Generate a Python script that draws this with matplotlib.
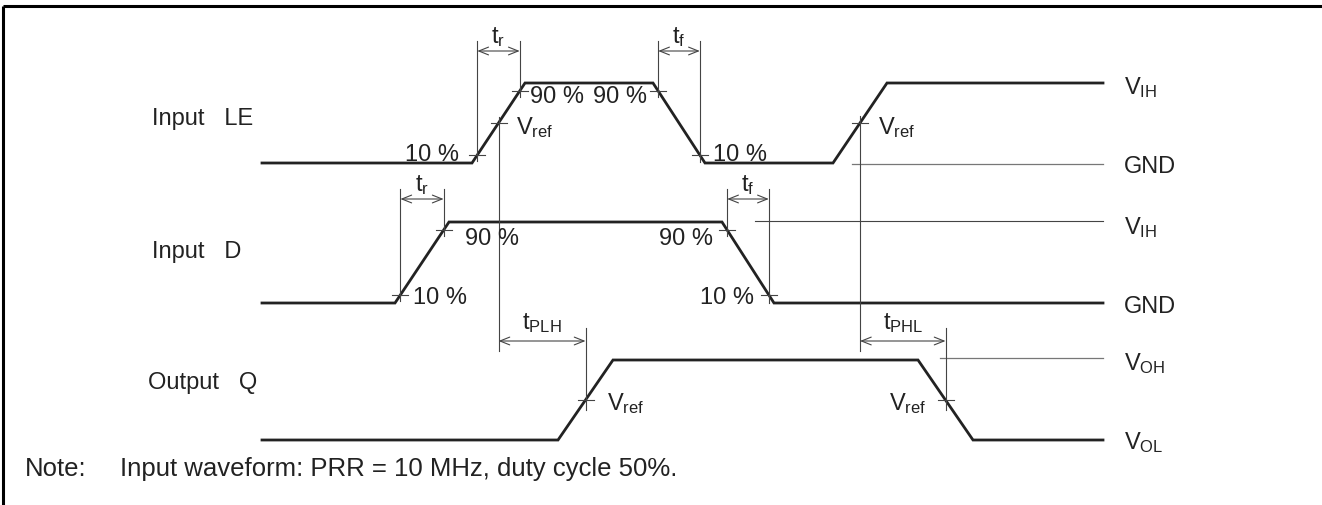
import matplotlib
matplotlib.use("Agg")
import numpy as np
import matplotlib.pyplot as plt

plt.rcParams['font.family'] = ['Liberation Sans', 'DejaVu Sans']
plt.rcParams['mathtext.fontset'] = 'custom'
plt.rcParams['mathtext.rm'] = 'Liberation Sans'
plt.rcParams['mathtext.it'] = 'Liberation Sans'

# waveform levels (pixel rows) and edges (start, end of each transition)
x_start, x_end = 262, 1103
le_low, le_high = 164, 84
le_edges = [(472, 525, 'r'), (653, 705, 'f'), (833, 887, 'r')]
d_low, d_high = 304, 223
d_edges = [(395, 449, 'r'), (722, 774, 'f')]
q_low, q_high = 441, 361
q_edges = [(558, 613, 'r'), (918, 973, 'f')]

signal_names = ['Input   LE', 'Input   D', 'Output   Q']
level_labels = [r'$\mathregular{V_{IH}}$', 'GND', r'$\mathregular{V_{IH}}$', 'GND',
                r'$\mathregular{V_{OH}}$', r'$\mathregular{V_{OL}}$']
note_text = 'Input waveform: PRR = 10 MHz, duty cycle 50%.'

INK = '#222222'
THIN = '#444444'
FS = 17
FS_NOTE = 18.5


def waveform(low, high, edges):
    xs, ys = [x_start], [low]
    for a, b, kind in edges:
        y0, y1 = (low, high) if kind == 'r' else (high, low)
        xs += [a, b]
        ys += [y0, y1]
    xs.append(x_end)
    ys.append(ys[-1])
    return xs, ys


def point_at(low, high, edge, frac):
    # point where the edge reaches frac of the swing
    a, b, kind = edge
    t = frac if kind == 'r' else 1 - frac
    return a + t * (b - a), low + frac * (high - low)


def cross(ax, x, y, v0=None, v1=None, half=8):
    ax.plot([x - half, x + half], [y, y], color=THIN, lw=0.8)
    if v0 is not None:
        ax.plot([x, x], [v0, v1], color=THIN, lw=0.8)


def dim_arrow(ax, x0, x1, y, label, ty):
    ax.annotate('', xy=(x0, y), xytext=(x1, y),
                arrowprops=dict(arrowstyle='<->,head_length=0.7,head_width=0.28',
                                color=THIN, lw=0.8, shrinkA=0, shrinkB=0))
    ax.text((x0 + x1) / 2, ty, label, ha='center', va='center', fontsize=FS, color=INK)


fig = plt.figure(figsize=(13.22, 5.06), dpi=100)
ax = fig.add_axes([0, 0, 1, 1])
ax.set_xlim(0, 1322)
ax.set_ylim(506, 0)
ax.axis('off')

# frame (top and left only)
ax.plot([3, 1322], [7, 7], color='black', lw=2.2, solid_capstyle='butt')
ax.plot([3, 3], [7, 506], color='black', lw=2.2, solid_capstyle='butt')

# waveforms
for low, high, edges in [(le_low, le_high, le_edges), (d_low, d_high, d_edges),
                         (q_low, q_high, q_edges)]:
    xs, ys = waveform(low, high, edges)
    ax.plot(xs, ys, color=INK, lw=2.0, solid_joinstyle='miter')

# reference level lines
ax.plot([852, x_end], [le_low + 1, le_low + 1], color='#777777', lw=0.9)
ax.plot([755, x_end], [d_high - 1, d_high - 1], color=THIN, lw=0.8)
ax.plot([940, x_end], [q_high - 2, q_high - 2], color='#777777', lw=0.9)

# Input LE annotations
p10 = point_at(le_low, le_high, le_edges[0], 0.1)
p90 = point_at(le_low, le_high, le_edges[0], 0.9)
cross(ax, p10[0], p10[1], 42, p10[1] + 6)
cross(ax, p90[0], p90[1], 42, p90[1] + 6)
dim_arrow(ax, p10[0], p90[0], 52, r'$\mathregular{t_r}$', 37)
ax.text(459, 155, '10 %', ha='right', va='center', fontsize=FS, color=INK)
ax.text(530, 97, '90 %', ha='left', va='center', fontsize=FS, color=INK)

f90 = point_at(le_low, le_high, le_edges[1], 0.9)
f10 = point_at(le_low, le_high, le_edges[1], 0.1)
cross(ax, f90[0], f90[1], 42, f90[1] + 6)
cross(ax, f10[0], f10[1], 42, f10[1] + 7)
dim_arrow(ax, f90[0], f10[0], 52, r'$\mathregular{t_f}$', 37)
ax.text(647, 97, '90 %', ha='right', va='center', fontsize=FS, color=INK)
ax.text(713, 155, '10 %', ha='left', va='center', fontsize=FS, color=INK)

v1 = point_at(le_low, le_high, le_edges[0], 0.5)
cross(ax, v1[0], v1[1], v1[1] - 6, 352)
ax.text(516, 128, r'$\mathregular{V_{ref}}$', ha='left', va='center', fontsize=FS, color=INK)
v2 = point_at(le_low, le_high, le_edges[2], 0.5)
cross(ax, v2[0], v2[1], v2[1] - 7, 352)
ax.text(878, 128, r'$\mathregular{V_{ref}}$', ha='left', va='center', fontsize=FS, color=INK)

# Input D annotations
d10 = point_at(d_low, d_high, d_edges[0], 0.1)
d90 = point_at(d_low, d_high, d_edges[0], 0.9)
cross(ax, d10[0], d10[1], 190, d10[1] + 6)
cross(ax, d90[0], d90[1], 190, d90[1] + 6)
dim_arrow(ax, d10[0], d90[0], 200, r'$\mathregular{t_r}$', 185)
ax.text(413, 298, '10 %', ha='left', va='center', fontsize=FS, color=INK)
ax.text(465, 239, '90 %', ha='left', va='center', fontsize=FS, color=INK)

e90 = point_at(d_low, d_high, d_edges[1], 0.9)
e10 = point_at(d_low, d_high, d_edges[1], 0.1)
cross(ax, e90[0], e90[1], 190, e90[1] + 6)
cross(ax, e10[0], e10[1], 190, e10[1] + 8)
dim_arrow(ax, e90[0], e10[0], 200, r'$\mathregular{t_f}$', 185)
ax.text(713, 239, '90 %', ha='right', va='center', fontsize=FS, color=INK)
ax.text(754, 298, '10 %', ha='right', va='center', fontsize=FS, color=INK)

# Output Q annotations
q1 = point_at(q_low, q_high, q_edges[0], 0.5)
q2 = point_at(q_low, q_high, q_edges[1], 0.5)
cross(ax, q1[0], q1[1], 329, q1[1] + 10)
cross(ax, q2[0], q2[1], 329, q2[1] + 10)
ax.text(607, 404, r'$\mathregular{V_{ref}}$', ha='left', va='center', fontsize=FS, color=INK)
ax.text(926, 404, r'$\mathregular{V_{ref}}$', ha='right', va='center', fontsize=FS, color=INK)
dim_arrow(ax, v1[0], q1[0], 342, r'$\mathregular{t_{PLH}}$', 323)
dim_arrow(ax, v2[0], q2[0], 342, r'$\mathregular{t_{PHL}}$', 323)

# signal names
for name, x, y in zip(signal_names, [152, 152, 148], [119, 252, 383]):
    ax.text(x, y, name, ha='left', va='center', fontsize=FS, color=INK)

# level labels on the right
for lab, y in zip(level_labels, [88, 167, 228, 307, 364, 443]):
    ax.text(1124, y, lab, ha='left', va='center', fontsize=FS, color=INK)

# note
ax.text(25, 469, 'Note:', ha='left', va='center', fontsize=FS_NOTE, color=INK)
ax.text(120, 469, note_text, ha='left', va='center', fontsize=FS_NOTE, color=INK)

fig.savefig('out.png', dpi=100)
